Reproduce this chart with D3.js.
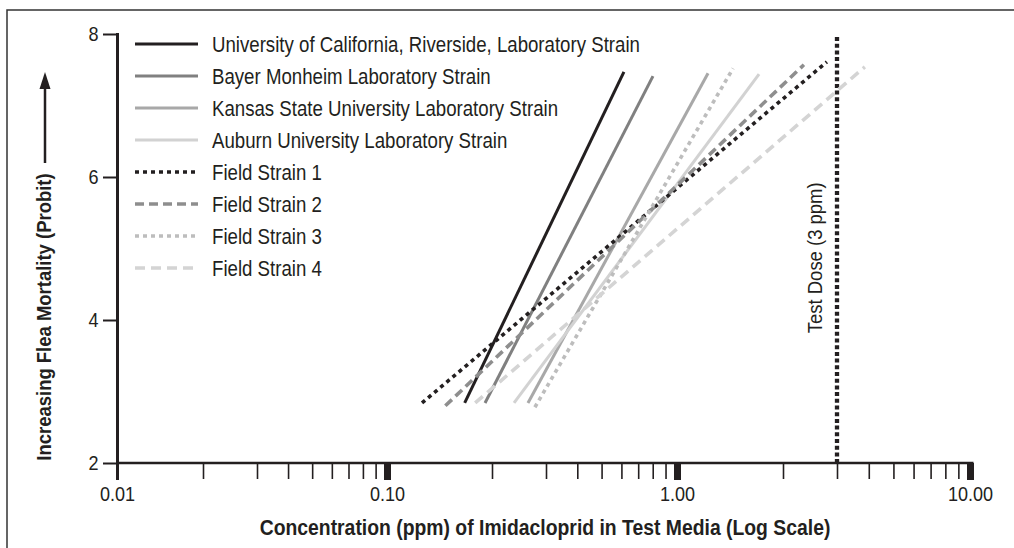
<!DOCTYPE html>
<html>
<head>
<meta charset="utf-8">
<script src="https://cdnjs.cloudflare.com/ajax/libs/d3/7.8.5/d3.min.js"></script>
<style>
    body { margin: 0; background: #fff; }
    text { font-family: "Liberation Sans", Arial, sans-serif; fill: #231f20; }
</style>
</head>
<body>
<div id="graph-placeholder"></div>
<script>
// strains and the two ends of each probit line (dose in ppm, probit)
var strains = [
    'University of California, Riverside, Laboratory Strain',
    'Bayer Monheim Laboratory Strain',
    'Kansas State University Laboratory Strain',
    'Auburn University Laboratory Strain',
    'Field Strain 1',
    'Field Strain 2',
    'Field Strain 3',
    'Field Strain 4'
];
var lowDose = [0.167, 0.191, 0.262, 0.236, 0.126, 0.147, 0.276, 0.179];
var lowProbit = [2.84, 2.84, 2.84, 2.84, 2.84, 2.80, 2.78, 2.84];
var highDose = [0.614, 0.802, 1.225, 1.710, 2.78, 2.34, 1.443, 3.86];
var highProbit = [7.47, 7.41, 7.45, 7.44, 7.61, 7.57, 7.52, 7.54];

var doseTicks = [0.01, 0.1, 1, 10];
var probitTicks = [2, 4, 6, 8];
var testDose = 3;

var lineColors = ['#231f20', '#808080', '#a8a8a8', '#d2d2d2', '#231f20', '#8e8e8e', '#bdbdbd', '#d4d4d4'];
var lineDashes = [null, null, null, null, '4,4', '9,5', '4,4', '10,6'];

// the original type is a condensed face, squeeze Liberation Sans a bit
var squeeze = ' scale(0.88,1)';

var width = 1014,
    height = 548,
    svg = d3.select('#graph-placeholder')
        .append('svg:svg')
        .attr('width', width)
        .attr('height', height);

// frame round the figure (only left and top show)
svg.append('rect')
    .attr('x', 7)
    .attr('y', 10)
    .attr('width', 1040)
    .attr('height', 580)
    .attr('fill', 'none')
    .attr('stroke', '#333')
    .attr('stroke-width', 1.5);

// the printed log axis is not perfectly even, so the scale is pinned at a few doses
var xScale = d3.scaleLog()
    .domain([0.01, 0.02, 0.03, 0.1, 0.2, 0.3, 1, 2, 3, 10])
    .range([117, 203, 257, 387, 492, 546, 677, 783, 837, 970]);

var yScale = d3.scaleLinear()
    .domain([2, 8])
    .range([463, 34]);

// minor ticks
var xAxis = svg.append('g')
    .attr('class', 'x axis')
    .attr('transform', 'translate(0,' + yScale(2) + ')')
    .call(d3.axisBottom(xScale)
        .tickValues(xScale.ticks().filter(function (d) {
            return doseTicks.indexOf(+d.toPrecision(3)) < 0;
        }))
        .tickSizeInner(16)
        .tickSizeOuter(0)
        .tickFormat(''));
xAxis.select('.domain')
    .attr('stroke', '#231f20')
    .attr('stroke-width', 2.5)
    .attr('d', 'M' + xScale(0.01) + ',0H' + (xScale(10) + 3.5));
xAxis.selectAll('.tick line')
    .attr('stroke', '#231f20')
    .attr('stroke-width', 1.6);

// major ticks and labels
var xMajor = svg.append('g')
    .attr('class', 'x major')
    .attr('transform', 'translate(0,' + yScale(2) + ')')
    .call(d3.axisBottom(xScale)
        .tickValues(doseTicks)
        .tickSizeInner(17)
        .tickSizeOuter(0)
        .tickPadding(6)
        .tickFormat(d3.format('.2f')));
xMajor.select('.domain').remove();
xMajor.selectAll('.tick line')
    .attr('stroke', '#231f20')
    .attr('stroke-width', function (d) {
        return d === 0.01 ? 3 : 7;
    });
xMajor.selectAll('.tick text')
    .attr('font-size', 20.5)
    .attr('transform', squeeze.trim())
    .style('fill', '#231f20');

var yAxis = svg.append('g')
    .attr('class', 'y axis')
    .attr('transform', 'translate(' + xScale(0.01) + ',0)')
    .call(d3.axisLeft(yScale)
        .tickValues(probitTicks)
        .tickSizeInner(14)
        .tickSizeOuter(0)
        .tickPadding(6)
        .tickFormat(d3.format('d')));
yAxis.select('.domain')
    .attr('stroke', '#231f20')
    .attr('stroke-width', 3)
    .attr('stroke-linecap', 'square');
yAxis.selectAll('.tick line')
    .attr('stroke', '#231f20')
    .attr('stroke-width', 2);
yAxis.selectAll('.tick text')
    .attr('x', -20)
    .attr('dy', '0.34em')
    .attr('font-size', 20.5)
    .attr('transform', 'translate(-1,0)' + squeeze)
    .style('fill', '#231f20');

// test dose marker
svg.append('line')
    .attr('x1', xScale(testDose))
    .attr('x2', xScale(testDose))
    .attr('y1', yScale(8) + 3)
    .attr('y2', yScale(2))
    .attr('stroke', '#231f20')
    .attr('stroke-width', 4.3)
    .attr('stroke-dasharray', '4,2.7');

svg.append('text')
    .attr('transform', 'translate(' + (xScale(testDose) - 15) + ',' + yScale(4.87) + ') rotate(-90)' + squeeze)
    .attr('text-anchor', 'middle')
    .attr('font-size', 21)
    .text('Test Dose (3 ppm)');

// probit lines
svg.append('g')
    .selectAll('line')
    .data(strains)
    .enter()
    .append('line')
    .attr('x1', function (d, i) { return xScale(lowDose[i]); })
    .attr('y1', function (d, i) { return yScale(lowProbit[i]); })
    .attr('x2', function (d, i) { return xScale(highDose[i]); })
    .attr('y2', function (d, i) { return yScale(highProbit[i]); })
    .attr('stroke', function (d, i) { return lineColors[i]; })
    .attr('stroke-width', function (d, i) { return lineDashes[i] ? 3.6 : 3; })
    .attr('stroke-dasharray', function (d, i) { return lineDashes[i]; });

// legend
var legend = svg.append('g')
    .attr('class', 'legend')
    .selectAll('g')
    .data(strains)
    .enter()
    .append('g')
    .attr('transform', function (d, i) {
        return 'translate(135,' + (44 + i * 32) + ')';
    });

legend.append('line')
    .attr('x1', 0)
    .attr('x2', 63)
    .attr('stroke', function (d, i) { return lineColors[i]; })
    .attr('stroke-width', function (d, i) { return lineDashes[i] ? 3.6 : 3; })
    .attr('stroke-dasharray', function (d, i) { return lineDashes[i]; });

legend.append('text')
    .attr('transform', 'translate(77,7.5)' + squeeze)
    .attr('font-size', 21.2)
    .text(function (d) { return d; });

// axis titles
svg.append('text')
    .attr('transform', 'translate(545,535)' + squeeze)
    .attr('text-anchor', 'middle')
    .attr('font-size', 22)
    .attr('font-weight', 'bold')
    .text('Concentration (ppm) of Imidacloprid in Test Media (Log Scale)');

svg.append('text')
    .attr('transform', 'translate(51,317) rotate(-90)' + squeeze)
    .attr('text-anchor', 'middle')
    .attr('font-size', 21)
    .attr('font-weight', 'bold')
    .text('Increasing Flea Mortality (Probit)');

// arrow up the y title
svg.append('line')
    .attr('x1', 45)
    .attr('x2', 45)
    .attr('y1', 163)
    .attr('y2', 86)
    .attr('stroke', '#231f20')
    .attr('stroke-width', 2.5);

svg.append('path')
    .attr('d', 'M45,72L50.5,89L39.5,89Z')
    .attr('fill', '#231f20');
</script>
</body>
</html>
